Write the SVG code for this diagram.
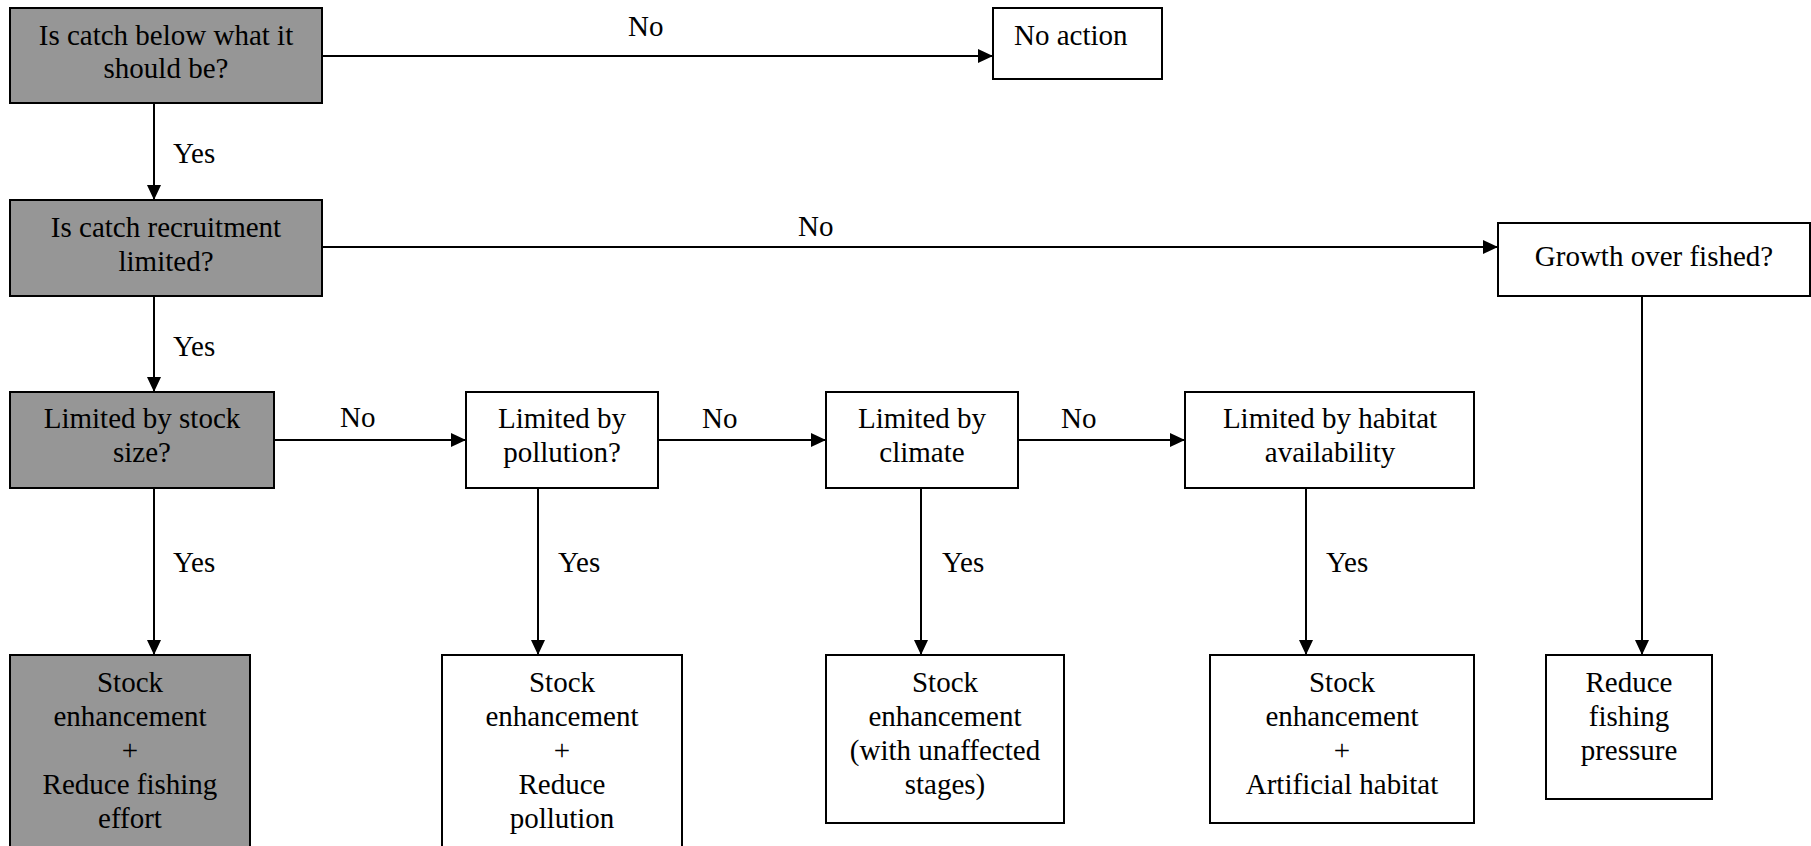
<svg xmlns="http://www.w3.org/2000/svg" width="1811" height="846" viewBox="0 0 1811 846">
  <style>
    .box { fill: #ffffff; stroke: #000000; stroke-width: 2; }
    .grey { fill: #969696; }
    text { font-family: 'Liberation Serif', Tinos, 'Times New Roman', Times, 'DejaVu Serif', serif; font-size: 29px; fill: #000000; }
    .t { text-anchor: middle; }
    .edge { stroke: #000000; stroke-width: 2; fill: none; marker-end: url(#arrow); }
  </style>
  <defs>
    <marker id="arrow" markerWidth="15" markerHeight="14" refX="15" refY="7" orient="auto" markerUnits="userSpaceOnUse">
      <path d="M0,0 L15,7 L0,14 Z" fill="#000000"/>
    </marker>
  </defs>
  <rect width="1811" height="846" fill="#ffffff"/>

  <!-- connectors and their Yes/No labels -->
  <g id="connectors">
    <line class="edge" x1="322" y1="56" x2="993" y2="56"/>
    <line class="edge" x1="154" y1="103" x2="154" y2="200"/>
    <line class="edge" x1="322" y1="247" x2="1498" y2="247"/>
    <line class="edge" x1="154" y1="296" x2="154" y2="392"/>
    <line class="edge" x1="274" y1="440" x2="466" y2="440"/>
    <line class="edge" x1="154" y1="488" x2="154" y2="655"/>
    <line class="edge" x1="658" y1="440" x2="826" y2="440"/>
    <line class="edge" x1="538" y1="488" x2="538" y2="655"/>
    <line class="edge" x1="1018" y1="440" x2="1185" y2="440"/>
    <line class="edge" x1="921" y1="488" x2="921" y2="655"/>
    <line class="edge" x1="1306" y1="488" x2="1306" y2="655"/>
    <line class="edge" x1="1642" y1="296" x2="1642" y2="655"/>
    <text x="628" y="36">No</text>
    <text x="798" y="236">No</text>
    <text x="340" y="427">No</text>
    <text x="702" y="428">No</text>
    <text x="1061" y="428">No</text>
    <text x="173" y="163">Yes</text>
    <text x="173" y="356">Yes</text>
    <text x="173" y="572">Yes</text>
    <text x="558" y="572">Yes</text>
    <text x="942" y="572">Yes</text>
    <text x="1326" y="572">Yes</text>
  </g>

  <g id="catch-below">
    <rect class="box grey" x="10" y="8" width="312" height="95"/>
    <text class="t" x="166" y="45">Is catch below what it</text>
    <text class="t" x="166" y="78">should be?</text>
  </g>

  <g id="no-action">
    <rect class="box" x="993" y="8" width="169" height="71"/>
    <text x="1014" y="45">No action</text>
  </g>

  <g id="recruitment-limited">
    <rect class="box grey" x="10" y="200" width="312" height="96"/>
    <text class="t" x="166" y="237">Is catch recruitment</text>
    <text class="t" x="166" y="271">limited?</text>
  </g>

  <g id="growth-overfished">
    <rect class="box" x="1498" y="223" width="312" height="73"/>
    <text class="t" x="1654" y="266">Growth over fished?</text>
  </g>

  <g id="stock-size">
    <rect class="box grey" x="10" y="392" width="264" height="96"/>
    <text class="t" x="142" y="428">Limited by stock</text>
    <text class="t" x="142" y="462">size?</text>
  </g>

  <g id="pollution">
    <rect class="box" x="466" y="392" width="192" height="96"/>
    <text class="t" x="562" y="428">Limited by</text>
    <text class="t" x="562" y="462">pollution?</text>
  </g>

  <g id="climate">
    <rect class="box" x="826" y="392" width="192" height="96"/>
    <text class="t" x="922" y="428">Limited by</text>
    <text class="t" x="922" y="462">climate</text>
  </g>

  <g id="habitat">
    <rect class="box" x="1185" y="392" width="289" height="96"/>
    <text class="t" x="1330" y="428">Limited by habitat</text>
    <text class="t" x="1330" y="462">availability</text>
  </g>

  <g id="result-stock-size">
    <rect class="box grey" x="10" y="655" width="240" height="200"/>
    <text class="t" x="130" y="692">Stock</text>
    <text class="t" x="130" y="726">enhancement</text>
    <text class="t" x="130" y="760">+</text>
    <text class="t" x="130" y="794">Reduce fishing</text>
    <text class="t" x="130" y="828">effort</text>
  </g>

  <g id="result-pollution">
    <rect class="box" x="442" y="655" width="240" height="200"/>
    <text class="t" x="562" y="692">Stock</text>
    <text class="t" x="562" y="726">enhancement</text>
    <text class="t" x="562" y="760">+</text>
    <text class="t" x="562" y="794">Reduce</text>
    <text class="t" x="562" y="828">pollution</text>
  </g>

  <g id="result-climate">
    <rect class="box" x="826" y="655" width="238" height="168"/>
    <text class="t" x="945" y="692">Stock</text>
    <text class="t" x="945" y="726">enhancement</text>
    <text class="t" x="945" y="760">(with unaffected</text>
    <text class="t" x="945" y="794">stages)</text>
  </g>

  <g id="result-habitat">
    <rect class="box" x="1210" y="655" width="264" height="168"/>
    <text class="t" x="1342" y="692">Stock</text>
    <text class="t" x="1342" y="726">enhancement</text>
    <text class="t" x="1342" y="760">+</text>
    <text class="t" x="1342" y="794">Artificial habitat</text>
  </g>

  <g id="result-growth">
    <rect class="box" x="1546" y="655" width="166" height="144"/>
    <text class="t" x="1629" y="692">Reduce</text>
    <text class="t" x="1629" y="726">fishing</text>
    <text class="t" x="1629" y="760">pressure</text>
  </g>
</svg>
